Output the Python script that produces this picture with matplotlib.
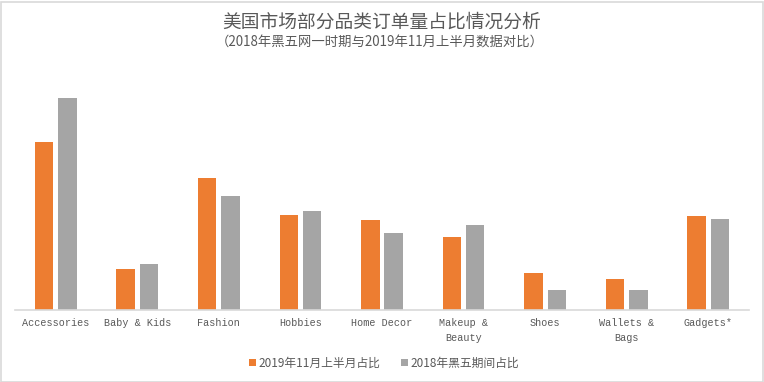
import matplotlib
matplotlib.use("Agg")
import matplotlib.pyplot as plt
import numpy as np
from matplotlib.patches import Rectangle

categories = ["Accessories", "Baby & Kids", "Fashion", "Hobbies", "Home Decor",
              "Makeup &\nBeauty", "Shoes", "Wallets &\nBags", "Gadgets*"]
share_2019 = [16.8, 4.1, 13.2, 9.5, 9.0, 7.3, 3.7, 3.1, 9.4]
share_2018 = [21.2, 4.6, 11.4, 9.9, 7.7, 8.5, 2.0, 2.0, 9.1]
series_names = ["2019年11月上半月占比", "2018年黑五期间占比"]
title = "美国市场部分品类订单量占比情况分析"
subtitle = "（2018年黑五网一时期与2019年11月上半月数据对比）"

cjk = ["Noto Sans CJK SC", "DejaVu Sans"]
plt.rcParams['font.family'] = cjk

W, H = 764, 382
fig = plt.figure(figsize=(W / 100, H / 100), dpi=100)
ax = fig.add_axes([15 / W, 1 - 310 / H, (749 - 15) / W, (310 - 80) / H])

x = np.arange(len(categories))
bw = 0.227
off = 0.143
c1, c2 = "#ED7D31", "#A5A5A5"
ax.bar(x - off, share_2019, width=bw, color=c1, label=series_names[0])
ax.bar(x + off, share_2018, width=bw, color=c2, label=series_names[1])

ax.set_xlim(-0.5, len(categories) - 0.5)
ax.set_ylim(0, 23.0)
ax.set_yticks([])
for s in ["top", "right", "left"]:
    ax.spines[s].set_visible(False)
ax.spines["bottom"].set_color("#D9D9D9")
ax.spines["bottom"].set_linewidth(1.2)
ax.set_xticks(x)
ax.set_xticklabels(categories, family=["Liberation Mono", "DejaVu Sans Mono"],
                   fontsize=7.3, color="#595959", linespacing=1.6)
ax.tick_params(axis="x", length=0, pad=6)

fig.text(382 / W, 1 - 22 / H, title, ha="center", va="center",
         fontsize=13.5, color="#595959", family=cjk)
fig.text(380 / W, 1 - 43 / H, subtitle, ha="center", va="center",
         fontsize=9.6, color="#595959", family=cjk)

leg = fig.legend(loc="center", bbox_to_anchor=(384 / W, 1 - 363 / H), ncol=2,
                 frameon=False, fontsize=8.5, handlelength=0.6, handleheight=0.6,
                 handletextpad=0.2, columnspacing=1.8)
for t in leg.get_texts():
    t.set_color("#595959")

fig.patches.append(Rectangle((0.5 / W, 0.5 / H), (W - 2) / W, (H - 2) / H,
                             transform=fig.transFigure, fill=False,
                             edgecolor="#D9D9D9", linewidth=1.2))

fig.savefig("out.png", dpi=100, facecolor="white")
